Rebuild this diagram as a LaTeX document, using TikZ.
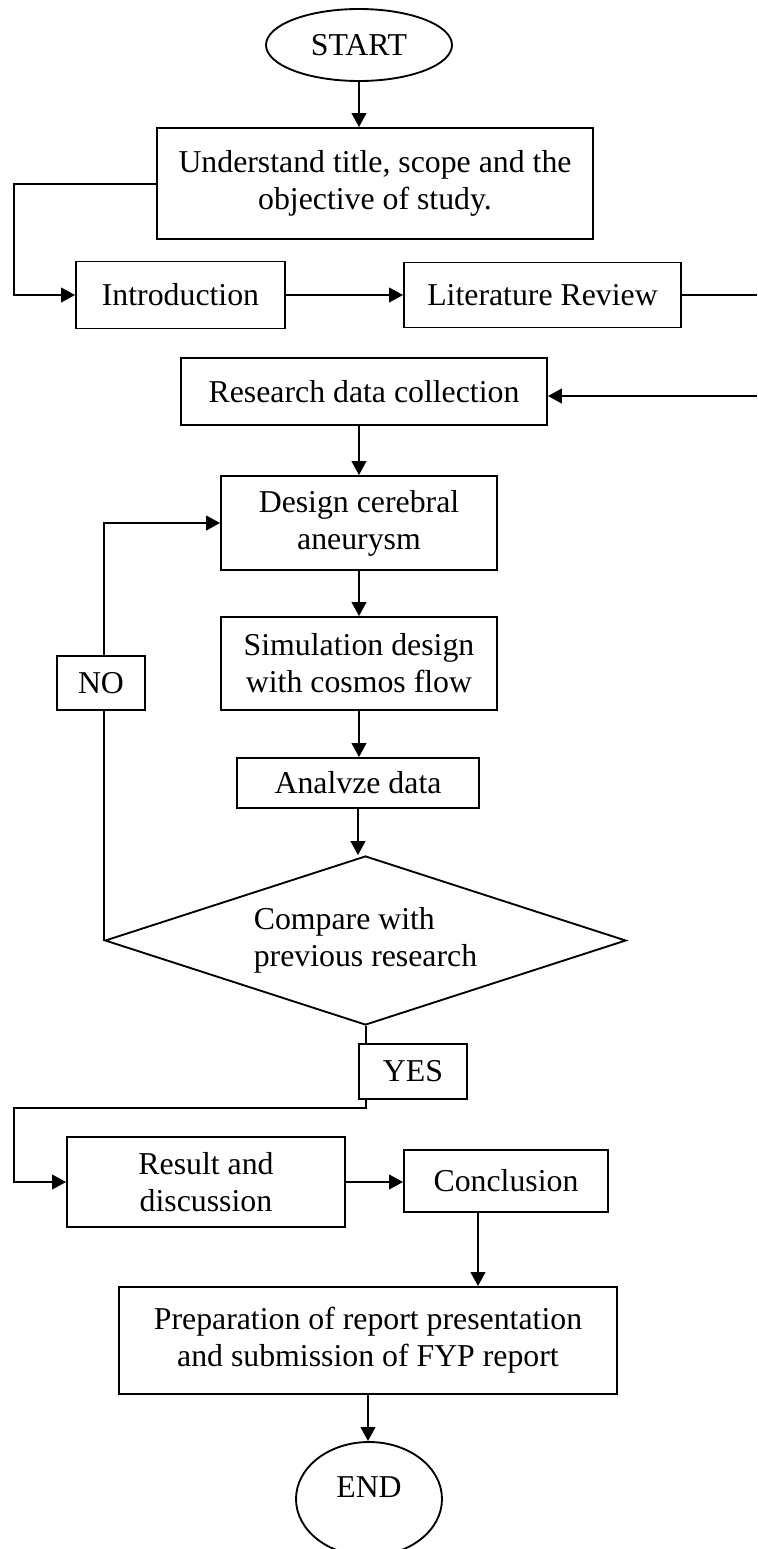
\documentclass[tikz,border=0pt]{standalone}
\usepackage{fontspec}
\setmainfont{Liberation Serif}
\usetikzlibrary{shapes.geometric,arrows.meta}
\begin{document}
\begin{tikzpicture}[x=0.75pt,y=-0.75pt,
  every node/.style={font=\fontsize{23.85pt}{27.75pt}\selectfont, align=center, inner sep=0pt, line width=1.4pt},
  sz/.style 2 args={minimum width=#1*0.75pt, minimum height=#2*0.75pt},
  box/.style={draw, rectangle},
  oval/.style={draw, ellipse},
  dec/.style={draw, diamond, aspect=3.08},
  ln/.style={line width=1.5pt},
  arr/.style={line width=1.5pt, -{Triangle[length=10.5pt,width=11pt]}}]
\useasboundingbox (0,0) rectangle (757,1549);

\node[oval, sz={186}{72}] (start) at (359,45) {START};
\node[box, sz={436}{111}] (und) at (375,183.5) {Understand title, scope and the\\objective of study.};
\node[box, sz={209}{67}] (intro) at (180.5,295) {Introduction};
\node[box, sz={277}{65}] (lit) at (542.5,295) {Literature Review};
\node[box, sz={366}{67}] (res) at (364,391.5) {Research data collection};
\node[box, sz={276}{94}] (des) at (359,523) {Design cerebral\\aneurysm};
\node[box, sz={276}{93}] (sim) at (359,663.5) {Simulation design\\with cosmos flow};
\node[box, sz={242}{50}] (ana) at (358,783) {Analvze data};
\node[dec, sz={521}{169}, align=left] (cmp) at (365.5,940.5) {Compare with\\previous research};
\node[box, sz={88}{54}] (no) at (101,683) {NO};
\node[box, sz={108}{55}] (yes) at (413,1071.5) {YES};
\node[box, sz={278}{90}] (rd) at (206,1182) {Result and\\discussion};
\node[box, sz={204}{62}] (con) at (506,1181) {Conclusion};
\node[box, sz={498}{107}] (prep) at (368,1340.5) {Preparation of report presentation\\and submission of FYP report};
\node[oval, sz={146}{114}] (end) at (369,1499) {\raisebox{9pt}[\height][\depth]{END}};

\coordinate (lx) at (14,0);
\coordinate (litout) at (757,292);
\coordinate (resin) at (757,396);
\coordinate (yl) at (14,1108);
\coordinate (cx) at (478,0);

\draw[arr] (start.south) -- (start.south |- und.north);
\draw[arr] (und.west) -- (und.west -| lx) |- (intro.west);
\draw[arr] (intro.east) -- (lit.west);
\draw[ln] (lit.east) -- (lit.east -| litout);
\draw[arr] (resin) -- (resin -| res.east);
\draw[arr] (des.north |- res.south) -- (des.north);
\draw[arr] (des.south) -- (sim.north);
\draw[arr] (sim.south) -- (sim.south |- ana.north);
\draw[arr] (ana.south) -- (ana.south |- cmp.north);
\draw[ln] (cmp.west) -- (cmp.west |- no.south);
\draw[arr] (cmp.west |- no.north) |- (des.west);
\draw[ln] (cmp.south) -- (cmp.south |- yes.north);
\draw[arr] (cmp.south |- yes.south) |- (yl) |- (rd.west);
\draw[arr] (rd.east) -- (rd.east -| con.west);
\draw[arr] (con.south -| cx) -- (prep.north -| cx);
\draw[arr] (prep.south) -- (prep.south |- end.north);
\end{tikzpicture}
\end{document}
